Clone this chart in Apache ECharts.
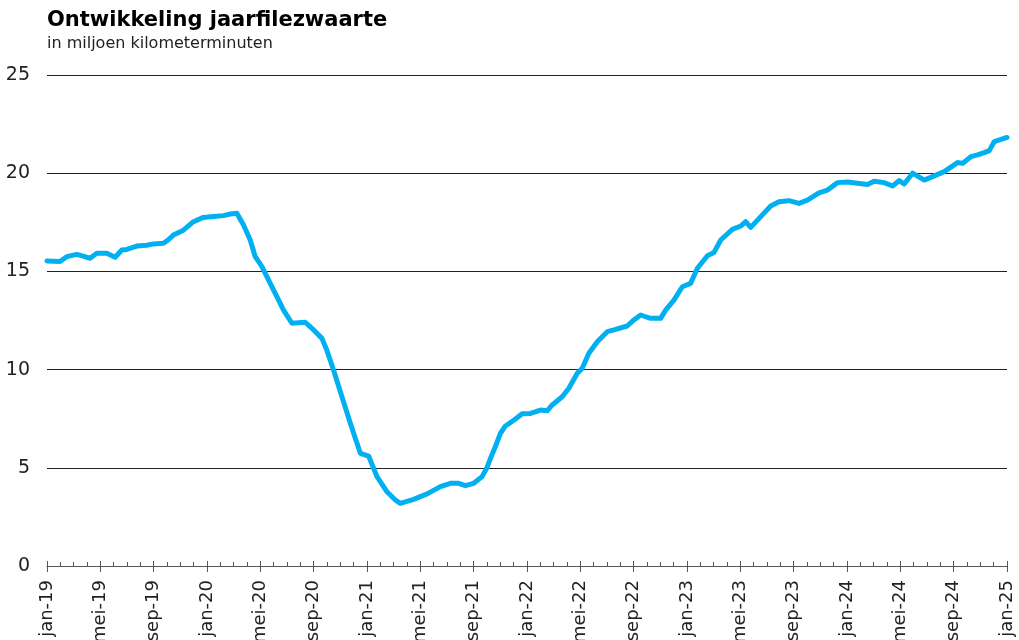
<!DOCTYPE html>
<html>
<head>
<meta charset="utf-8">
<script src="https://cdn.jsdelivr.net/npm/echarts@6/dist/echarts.min.js"></script>
<style>
html, body { margin: 0; padding: 0; background: #fff; }
#chart { width: 1019px; height: 640px; }
</style>
</head>
<body>
<div id="chart"></div>
<script>
// maanden sinds jan-19 (positie op de tijdas)
const monthPos = [
  0, 0.98, 1.48, 2.23, 2.7, 3.23, 3.73, 4.48, 5.11, 5.61, 5.98, 6.73, 7.48, 7.98, 8.73, 9.08, 9.48,
  10.23, 10.98, 11.73, 12.48, 13.24, 13.74, 14.24, 14.74, 15.24, 15.62, 16.12, 16.74, 17.24, 17.74,
  18.37, 19.37, 19.87, 20.62, 20.98, 21.49, 22.12, 22.75, 23.5, 24.12, 24.75, 25.5, 26.13, 26.5,
  27.5, 28.51, 29.5, 30.26, 30.88, 31.38, 32.0, 32.63, 33.01, 33.26, 33.63, 34.01, 34.38, 35.01,
  35.64, 36.26, 37.01, 37.51, 37.89, 38.64, 39.14, 39.77, 40.14, 40.64, 41.27, 42.02, 42.52, 43.52,
  44.02, 44.52, 45.27, 46.02, 46.4, 47.02, 47.65, 48.27, 48.78, 49.53, 50.02, 50.53, 51.4, 52.03,
  52.4, 52.78, 53.53, 54.28, 54.9, 55.65, 56.4, 57.03, 57.9, 58.54, 59.29, 60.04, 60.79, 61.54,
  62.03, 62.78, 63.42, 63.91, 64.29, 64.92, 65.79, 66.29, 67.29, 68.29, 68.67, 69.29, 69.79, 70.29,
  70.67, 71.05, 71.55, 72
]
// jaarfilezwaarte in miljoen kilometerminuten
const filezwaarte = [
  15.53, 15.5, 15.75, 15.87, 15.78, 15.67, 15.92, 15.92, 15.72, 16.09, 16.12, 16.29, 16.33, 16.4, 16.43, 16.6, 16.85,
  17.1, 17.53, 17.75, 17.79, 17.84, 17.92, 17.96, 17.36, 16.6, 15.75, 15.24, 14.39, 13.71, 13.03,
  12.36, 12.41, 12.1, 11.59, 11.0, 9.98, 8.62, 7.27, 5.74, 5.6, 4.55, 3.78, 3.36, 3.19,
  3.39, 3.67, 4.04, 4.21, 4.21, 4.09, 4.21, 4.55, 5.03, 5.48, 6.08, 6.76, 7.13, 7.42,
  7.75, 7.77, 7.94, 7.9, 8.2, 8.62, 9.05, 9.81, 10.07, 10.83, 11.42, 11.93, 12.02, 12.22,
  12.53, 12.78, 12.61, 12.61, 13.03, 13.54, 14.22, 14.39, 15.16, 15.8, 15.96, 16.6, 17.14, 17.31,
  17.53, 17.24, 17.79, 18.33, 18.55, 18.6, 18.46, 18.63, 19.0, 19.14, 19.52, 19.55, 19.49, 19.43,
  19.59, 19.52, 19.35, 19.62, 19.45, 20.0, 19.65, 19.79, 20.08, 20.54, 20.5, 20.84, 20.93, 21.05,
  21.15, 21.61, 21.72, 21.82
]
const maandNamen = ['jan', 'feb', 'mrt', 'apr', 'mei', 'jun', 'jul', 'aug', 'sep', 'okt', 'nov', 'dec']

const font = 'Verdana, "DejaVu Sans", sans-serif'
let chart = echarts.init(document.getElementById('chart'))
chart.setOption({
  animation: false,
  title: {
    text: 'Ontwikkeling jaarfilezwaarte',
    subtext: 'in miljoen kilometerminuten',
    left: 42,
    top: 5,
    itemGap: 5,
    textStyle: { fontFamily: font, fontSize: 21, fontWeight: 'bold', color: '#000' },
    subtextStyle: { fontFamily: font, fontSize: 16, color: '#222' }
  },
  grid: { left: 47, right: 12, top: 75, bottom: 74, outerBoundsMode: 'none', containLabel: false },
  xAxis: [
    {
      type: 'value',
      min: 0,
      max: 72,
      interval: 4,
      axisLine: { show: true, lineStyle: { color: '#555', width: 1 } },
      axisTick: { show: true, inside: true, length: 5, lineStyle: { color: '#555' } },
      minorTick: { show: true, splitNumber: 4, length: 4, lineStyle: { color: '#555' } },
      splitLine: { show: false },
      axisLabel: {
        rotate: 90,
        margin: 14,
        fontFamily: font,
        fontSize: 18,
        color: '#222',
        formatter: function (v) {
          return maandNamen[v % 12] + '-' + (19 + Math.floor(v / 12))
        }
      }
    },
    {
      type: 'value',
      position: 'bottom',
      min: 0,
      max: 72,
      interval: 4,
      axisLine: { show: false },
      axisTick: { show: true, length: 6, lineStyle: { color: '#555' } },
      axisLabel: { show: false },
      splitLine: { show: false }
    }
  ],
  yAxis: {
    type: 'value',
    min: 0,
    max: 25,
    interval: 5,
    axisLine: { show: false },
    axisTick: { show: false },
    axisLabel: { margin: 17, fontFamily: font, fontSize: 19, color: '#222' },
    splitLine: { lineStyle: { color: '#222', width: 1 } }
  },
  series: [{
    type: 'line',
    data: monthPos.map((t, i) => [t, filezwaarte[i]]),
    showSymbol: false,
    lineStyle: { color: '#00b0f0', width: 5, join: 'round', cap: 'round' },
    z: 3
  }]
})
</script>
</body>
</html>
